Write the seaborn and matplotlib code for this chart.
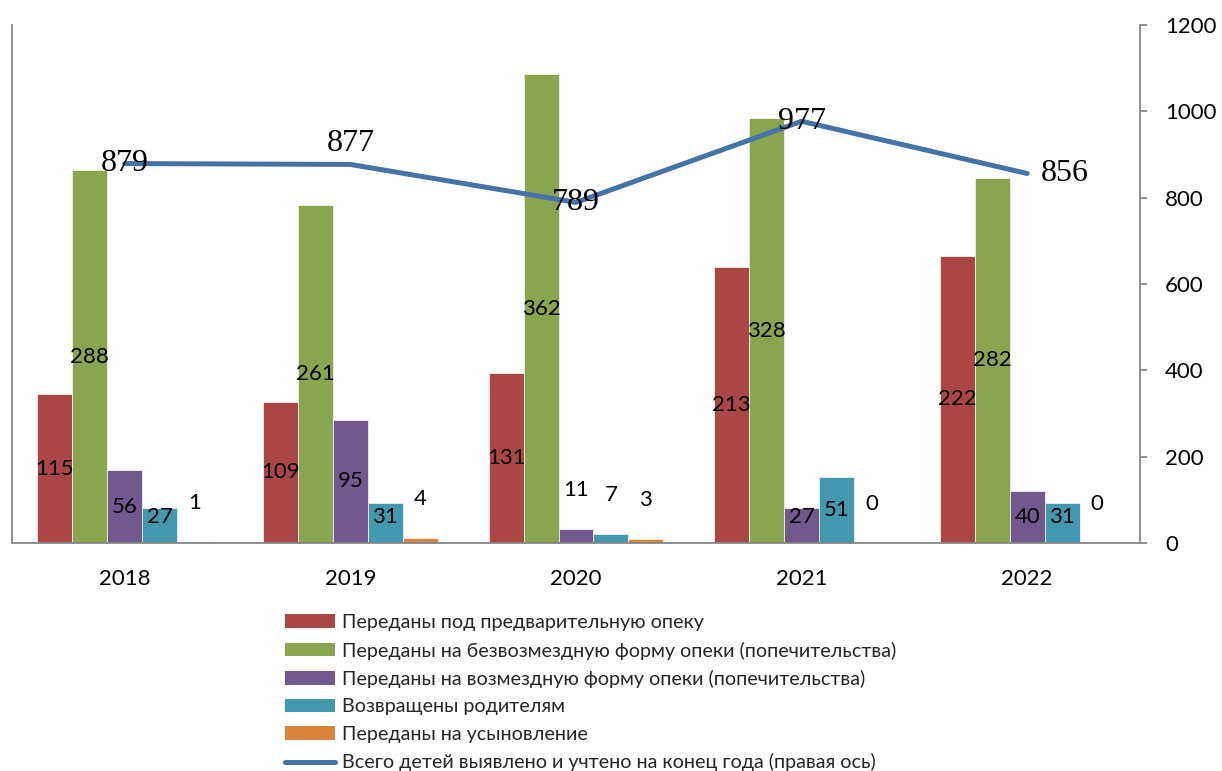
import numpy as np
import pandas as pd
import matplotlib
matplotlib.use("Agg")
import matplotlib.pyplot as plt
import seaborn as sns
from matplotlib.lines import Line2D
from matplotlib.patches import Patch

# ---- data ----
years = ["2018", "2019", "2020", "2021", "2022"]
series_names = [
    "Переданы под предварительную опеку",
    "Переданы на безвозмездную форму опеки (попечительства)",
    "Переданы на возмездную форму опеки (попечительства)",
    "Возвращены родителям",
    "Переданы на усыновление",
]
prelim = [115, 109, 131, 213, 222]
free_guard = [288, 261, 362, 328, 282]
paid_guard = [56, 95, 11, 27, 40]
returned = [27, 31, 7, 51, 31]
adopted = [1, 4, 3, 0, 0]
total_name = "Всего детей выявлено и учтено на конец года (правая ось)"
total = [879, 877, 789, 977, 856]

# ---- styles ----
colors = ["#AA4643", "#89A54E", "#71588F", "#4198AF", "#DB843D"]
line_color = "#4572A7"
axis_gray = "#868686"

sns.set_theme(style="white")
plt.rcParams['font.family'] = ['Lato', 'DejaVu Sans']

series_values = [prelim, free_guard, paid_guard, returned, adopted]
rows = []
for name, vals in zip(series_names, series_values):
    for y, v in zip(years, vals):
        rows.append({"year": y, "series": name, "value": v})
df = pd.DataFrame(rows)

W, H = 1222, 771
fig = plt.figure(figsize=(W / 100, H / 100), dpi=100)
ax = fig.add_axes([12 / W, 1 - 543 / H, (1140 - 12) / W, (543 - 25) / H])

sns.barplot(data=df, x="year", y="value", hue="series", order=years,
            hue_order=series_names, palette=colors, width=0.775,
            saturation=1, ax=ax, legend=False,
            edgecolor="#f0f0f0", linewidth=0.6)
ax.set_ylim(0, 400)
ax.set_xlim(-0.5, len(years) - 0.5)
ax.set_xlabel("")
ax.set_ylabel("")

# bar value labels
for cont in ax.containers:
    for bar in cont:
        v = bar.get_height()
        if v >= 20:
            ly = max(v / 2, 20)
        else:
            ly = v + 30
        ax.text(bar.get_x() + bar.get_width() / 2, ly, f"{int(round(v))}",
                ha="center", va="center", fontsize=16, color="black")

for s in ["top", "right"]:
    ax.spines[s].set_visible(False)
for s in ["left", "bottom"]:
    ax.spines[s].set_color(axis_gray)
    ax.spines[s].set_linewidth(1.3)

# secondary axis line
ax2 = ax.twinx()
xpos = np.arange(len(years))
sns.lineplot(x=xpos, y=total, ax=ax2, color=line_color, linewidth=3.6,
             solid_capstyle="round")
ax2.set_ylim(0, 1200)
ax2.set_yticks(range(0, 1201, 200))
ax2.set_xlim(-0.5, len(years) - 0.5)
ax2.set_ylabel("")
ax2.tick_params(axis="y", left=False, labelleft=False, right=True, length=5,
                width=1.3, color=axis_gray, pad=13, labelsize=16,
                labelcolor="black")
ax2.tick_params(axis="x", bottom=False, labelbottom=False)
for s in ["top", "left", "bottom"]:
    ax2.spines[s].set_visible(False)
ax2.spines["right"].set_color(axis_gray)
ax2.spines["right"].set_linewidth(1.3)

# primary axis ticks (after twinx, which resets left ticks)
ax.tick_params(axis="y", left=False, right=False, labelleft=False,
               labelright=False, length=0)
ax.tick_params(axis="x", bottom=False, pad=13, labelsize=16, colors="black")

label_offsets = [(0, 0), (0, 15), (0, 0), (0, 0), (27, 0)]
for x, v, off in zip(xpos, total, label_offsets):
    ax2.annotate(f"{v}", (x, v), xytext=off, textcoords="offset points",
                 ha="center", va="center", fontsize=23,
                 family=["Liberation Serif", "DejaVu Serif"], color="black")

# legend
handles = [Patch(facecolor=c, edgecolor="none") for c in colors]
handles.append(Line2D([0], [0], color=line_color, linewidth=3.6,
                      solid_capstyle="round"))
labels = series_names + [total_name]
fig.legend(handles, labels, loc="upper left",
           bbox_to_anchor=(285 / W, 1 - 614 / H), frameon=False,
           fontsize=14.2, handlelength=2.55, handleheight=0.66,
           handletextpad=0.35, labelspacing=0.53, borderpad=0,
           borderaxespad=0)

fig.savefig("out.png", dpi=100)
